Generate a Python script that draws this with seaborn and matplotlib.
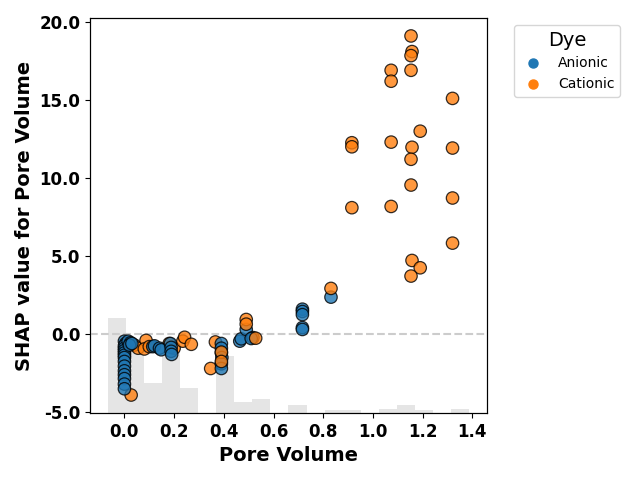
import numpy as np
import pandas as pd
import matplotlib
matplotlib.use("Agg")
import matplotlib.pyplot as plt
from matplotlib.lines import Line2D
from matplotlib.ticker import FormatStrFormatter
import seaborn as sns

# ---- data ----
pore_volume = [
    # low cluster, cationic drawn first
    0.027, 0.040, 0.055, 0.087, 0.080, 0.100, 0.180, 0.200, 0.235, 0.242, 0.269,
    0.366, 0.347,
    # anionic
    0.000, 0.005, 0.000, 0.000, 0.000, 0.000, 0.000, 0.000, 0.000, 0.000, 0.000,
    0.000, 0.000, 0.000, 0.000,
    0.015, 0.025, 0.020, 0.030,
    0.114, 0.121, 0.141, 0.148,
    0.185, 0.188, 0.188, 0.190,
    0.390, 0.390, 0.390, 0.392, 0.390, 0.390,
    0.464, 0.470, 0.490, 0.517, 0.510,
    0.716, 0.716, 0.716, 0.716, 0.716,
    0.831,
    # cationic on top
    0.390, 0.390, 0.490, 0.490, 0.528, 0.831,
    1.153, 1.157, 1.153, 1.073, 1.153, 1.073, 1.320, 1.190, 0.915, 0.915,
    1.073, 1.157, 1.320, 1.153, 1.153, 1.320, 0.915, 1.073, 1.320, 1.157,
    1.190, 1.153,
]
shap_value = [
    -3.90, -0.70, -0.90, -0.40, -0.95, -0.80, -0.60, -0.90, -0.45, -0.20, -0.65,
    -0.50, -2.20,
    -0.45, -0.60, -0.75, -0.90, -1.05, -1.20, -1.35, -1.50, -1.75, -2.05, -2.35,
    -2.60, -2.85, -3.20, -3.50,
    -0.45, -0.55, -0.70, -0.60,
    -0.80, -0.75, -0.90, -1.00,
    -0.60, -0.85, -1.10, -1.30,
    -0.60, -0.90, -1.20, -1.50, -1.90, -2.20,
    -0.45, -0.30, 0.30, -0.22, -0.28,
    1.60, 1.45, 1.25, 0.42, 0.30,
    2.37,
    -1.15, -1.75, 0.94, 0.64, -0.26, 2.93,
    19.10, 18.10, 17.84, 16.90, 16.90, 16.20, 15.10, 13.00, 12.26, 12.00,
    12.30, 11.97, 11.92, 11.20, 9.55, 8.72, 8.10, 8.18, 5.83, 4.72,
    4.25, 3.72,
]
dye = (["Cationic"] * 13 + ["Anionic"] * 44 + ["Cationic"] * 28)

# histogram of pore volume (20 bins over padded data range)
hist_counts = [35, 24, 11, 24, 9, 0, 21, 4, 5, 0, 3, 0, 1, 1, 0, 1.5, 3, 1, 0, 1.5]

dye_levels = ["Anionic", "Cationic"]
dye_colors = ["#1f77b4", "#ff7f0e"]

df = pd.DataFrame({"Pore Volume": pore_volume, "SHAP": shap_value, "Dye": dye})

# ---- figure ----
fig = plt.figure(figsize=(6.4, 4.8), dpi=100)
ax = fig.add_axes([0.1406, 0.1396, 0.6203, 0.8229])

xmin, xmax = min(pore_volume), max(pore_volume)
xr = xmax - xmin
hmin, hmax = xmin - 0.05 * xr, xmax + 0.05 * xr
edges = np.linspace(hmin, hmax, len(hist_counts) + 1)
hist_df = pd.DataFrame({"center": (edges[:-1] + edges[1:]) / 2,
                        "count": hist_counts})

ax2 = ax.twinx()
sns.histplot(data=hist_df, x="center", weights="count",
             bins=len(hist_counts), binrange=(hmin, hmax), ax=ax2,
             color="black", alpha=0.1, linewidth=0)
ax2.set_ylim(0, sum(hist_counts))
ax2.set_yticks([])
ax2.set_ylabel("")
ax.set_zorder(ax2.get_zorder() + 1)
ax.patch.set_visible(False)

ax.axhline(0, color="#cccccc", linestyle="--", linewidth=1.5, zorder=1)

sns.scatterplot(data=df, x="Pore Volume", y="SHAP", hue="Dye",
                hue_order=dye_levels, palette=dye_colors, s=80,
                alpha=0.8, edgecolor="black", linewidth=0.9,
                legend=False, ax=ax, zorder=3)

hr = hmax - hmin
ax.set_xlim(hmin - 0.05 * hr, hmax + 0.05 * hr)
ymin, ymax = min(shap_value), max(shap_value)
yr = ymax - ymin
ax.set_ylim(ymin - 0.05 * yr, ymax + 0.05 * yr)

ax.set_xticks(np.arange(0, 1.41, 0.2))
ax.set_yticks([-5, 0, 5, 10, 15, 20])
ax.xaxis.set_major_formatter(FormatStrFormatter("%.1f"))
ax.yaxis.set_major_formatter(FormatStrFormatter("%.1f"))
for lab in ax.get_xticklabels() + ax.get_yticklabels():
    lab.set_fontweight("bold")
    lab.set_fontsize(12)

ax.set_xlabel("Pore Volume", fontsize=14, fontweight="bold")
ax.set_ylabel("SHAP value for Pore Volume", fontsize=14, fontweight="bold")

handles = [Line2D([0], [0], marker="o", linestyle="", color=c,
                  markersize=6.5, label=l) for l, c in zip(dye_levels, dye_colors)]
leg = ax.legend(handles=handles, title="Dye", loc="upper left",
                bbox_to_anchor=(1.05, 1), fontsize=10, title_fontsize=14)

fig.savefig("out.png", dpi=100)
